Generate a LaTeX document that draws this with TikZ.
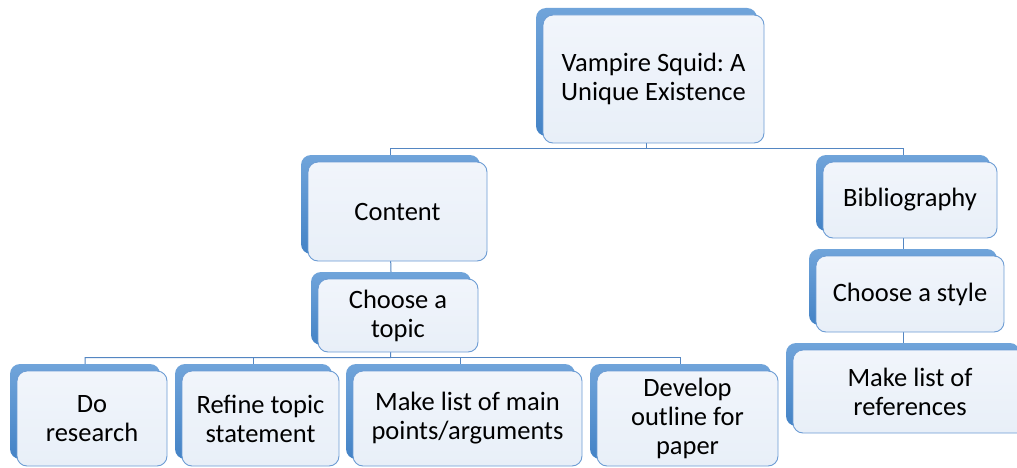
\documentclass[tikz,border=0pt]{standalone}
\usepackage{fontspec}
\setmainfont{Carlito}
\frenchspacing
\definecolor{shadowtop}{RGB}{112,164,218}
\definecolor{shadowbot}{RGB}{68,131,198}
\definecolor{fgtop}{RGB}{241,245,251}
\definecolor{fgbot}{RGB}{232,239,248}
\definecolor{fgline}{RGB}{108,156,212}
\definecolor{conn}{RGB}{84,134,194}
\pgfdeclarelayer{bglayer}
\pgfdeclarelayer{linklayer}
\pgfsetlayers{bglayer,linklayer,main}
\tikzset{
 shadowbox/.style={rectangle, rounded corners=10pt, top color=shadowtop, bottom color=shadowbot, inner sep=0pt},
 facebox/.style={rectangle, rounded corners=10pt, draw=fgline, line width=0.9pt, top color=fgtop, bottom color=fgbot, align=center, inner sep=0pt, text=black, font=\fontsize{26.5pt}{29pt}\selectfont},
 link/.style={draw=conn, line width=1pt}
}
% name, left, top, right, bottom (front box, pixel coords), text
\newcommand\sqbox[6]{%
 \node[shadowbox, minimum width={(#4-#2)*1pt}, minimum height={(#5-#3)*1pt}] (#1) at ({(#2+#4)/2-7},{-(#3+#5)/2+7}) {};
 \node[facebox, minimum width={(#4-#2)*1pt}, minimum height={(#5-#3)*1pt}] (#1-f) at ({(#2+#4)/2},{-(#3+#5)/2}) {#6};
}
\begin{document}
\begin{tikzpicture}[x=1pt,y=1pt]
\begin{pgfonlayer}{bglayer}
\fill[white] (0,0) rectangle (1017,-468);
\end{pgfonlayer}
\useasboundingbox (0,0) rectangle (1017,-468);
\clip (0,0) rectangle (1017,-468);
\sqbox{root}{543}{15}{764}{143}{Vampire Squid: A\\Unique Existence}
\sqbox{content}{308}{162}{487}{261}{Content}
\sqbox{topic}{318}{279}{478}{352}{Choose a\\topic}
\sqbox{bib}{823}{162}{997}{238}{Bibliography}
\sqbox{style}{816}{256}{1004}{332}{Choose a style}
\sqbox{refs}{793}{350}{1027}{433}{Make list of\\references}
\sqbox{research}{17}{371}{167}{466}{Do\\research}
\sqbox{refine}{182}{371}{339}{466}{Refine topic\\statement}
\sqbox{points}{353}{371}{582}{466}{Make list of main\\points/arguments}
\sqbox{outline}{597}{371}{778}{466}{Develop\\outline for\\paper}
\coordinate (bus1) at (646.5,-149);
\coordinate (bus2) at (390.5,-357.5);
\begin{pgfonlayer}{linklayer}
\draw[link] (root.south) -- (bus1) -| (content.north);
\draw[link] (bus1) -| (bib.north);
\draw[link] (content.south) -- (topic.north);
\draw[link] (topic.south) -- (bus2) -| (research.north);
\draw[link] (bus2) -| (refine.north);
\draw[link] (bus2) -| (points.north);
\draw[link] (bus2) -| (outline.north);
\draw[link] (bib.south) -- (style.north);
\draw[link] (style.south) -- (refs.north);
\end{pgfonlayer}
\end{tikzpicture}
\end{document}
